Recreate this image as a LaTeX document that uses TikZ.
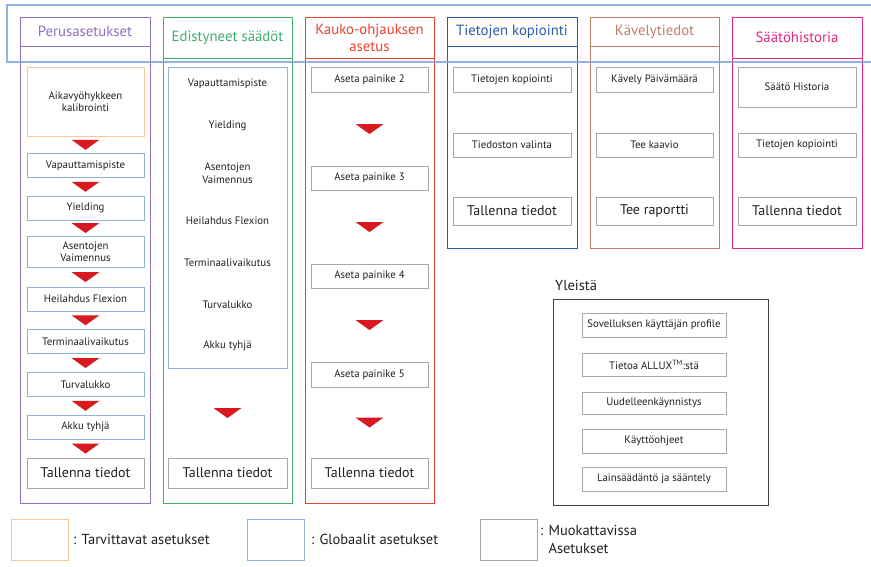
\documentclass[tikz,border=0pt]{standalone}
\usepackage{fontspec}
\setmainfont{PT Sans}
\usetikzlibrary{calc}
\definecolor{perpurple}{HTML}{8E70BE}
\definecolor{edgreen}{HTML}{3DB06E}
\definecolor{kored}{HTML}{E8432E}
\definecolor{kopblue}{HTML}{2B5BA8}
\definecolor{kavbrown}{HTML}{C08068}
\definecolor{histpink}{HTML}{E2277F}
\definecolor{globalblue}{HTML}{8FB3DA}
\definecolor{needorange}{HTML}{F6C8A0}
\definecolor{editgrey}{HTML}{A8A8A8}
\definecolor{arrowred}{HTML}{D8191F}
\definecolor{textgrey}{HTML}{231F20}
\newcommand{\redarrow}[2]{%
  \fill[arrowred] ($(#1.south)!0.5!(#2.north)$) ++(-14,-5) -- ++(28,0) -- ++(-14,10) -- cycle;}

\begin{document}
\begin{tikzpicture}[
    x=1pt, y=-1pt,
    item/.style={
      draw=editgrey,
      line width=0.8pt,
      inner sep=0pt,
      minimum width=117,
      minimum height=24,
      align=center,
      text=textgrey,
      font=\fontsize{10.8}{12.5}\selectfont
    },
    global/.style={item, draw=globalblue},
    saveitem/.style={item, minimum height=30, font=\fontsize{14}{16}\selectfont},
    plain/.style={align=center, text=textgrey, font=\fontsize{10.8}{12.5}\selectfont},
    legendtext/.style={plain, anchor=west, align=left, inner sep=0pt, font=\fontsize{14.5}{18}\selectfont},
    head/.style={align=center, font=\fontsize{14.8}{17}\selectfont},
    frame/.style={line width=1pt}
  ]
  \useasboundingbox (0,0) rectangle (871,566);

  % column frames
  \draw[frame, perpurple] (20,17) rectangle (150,503) (20,46) -- (150,46);
  \draw[frame, edgreen] (163,17) rectangle (292,503) (163,58) -- (292,58);
  \draw[frame, kored] (305,17) rectangle (434,503) (305,58) -- (434,58);
  \draw[frame, kopblue] (447,17) rectangle (577,248) (447,46) -- (577,46);
  \draw[frame, kavbrown] (590,17) rectangle (719,248) (590,46) -- (719,46);
  \draw[frame, histpink] (732,17) rectangle (862,248) (732,58) -- (862,58);

  \node[head, text=perpurple] (h1) at (85,31.5) {Perusasetukset};
  \node[head, text=edgreen] (h2) at (227.5,37.5) {Edistyneet säädöt};
  \node[head, text=kored] (h3) at (369.5,37.5) {Kauko-ohjauksen\\asetus};
  \node[head, text=kopblue] (h4) at (512,31.5) {Tietojen kopiointi};
  \node[head, text=kavbrown] (h5) at (654.5,31.5) {Kävelytiedot};
  \node[head, text=histpink] (h6) at (797,37.5) {Säätöhistoria};

  % Perusasetukset
  \node[item, draw=needorange, minimum height=69] (c1a) at (85.5,101.5) {Aikavyöhykkeen\\kalibrointi};
  \node[global] (c1b) at (85.5,165.5) {Vapauttamispiste};
  \node[global] (c1c) at (85.5,208) {Yielding};
  \node[global, minimum height=31] (c1d) at (85.5,251.5) {Asentojen\\Vaimennus};
  \node[global] (c1e) at (85.5,299) {Heilahdus Flexion};
  \node[global] (c1f) at (85.5,341.5) {Terminaalivaikutus};
  \node[global] (c1g) at (85.5,384.5) {Turvalukko};
  \node[global] (c1h) at (85.5,427) {Akku tyhjä};
  \node[saveitem] (c1s) at (85.5,473) {Tallenna tiedot};
  \foreach \a/\b in {c1a/c1b, c1b/c1c, c1c/c1d, c1d/c1e, c1e/c1f, c1f/c1g, c1g/c1h, c1h/c1s}
    \redarrow{\a}{\b};

  % Edistyneet saadot
  \node[global, minimum width=119, minimum height=301] (c2box) at (227.5,217.5) {};
  \node[plain] (c2a) at (227.5,84) {Vapauttamispiste};
  \node[plain] (c2b) at (227.5,126) {Yielding};
  \node[plain] (c2c) at (227.5,173) {Asentojen\\Vaimennus};
  \node[plain] (c2d) at (227.5,221) {Heilahdus Flexion};
  \node[plain] (c2e) at (227.5,263) {Terminaalivaikutus};
  \node[plain] (c2f) at (227.5,305) {Turvalukko};
  \node[plain] (c2g) at (227.5,346) {Akku tyhjä};
  \node[saveitem, minimum width=119] (c2s) at (227.5,473) {Tallenna tiedot};
  \redarrow{c2box}{c2s};

  % Kauko-ohjauksen asetus
  \node[item, minimum height=25] (c3a) at (369.5,79.5) {Aseta painike 2};
  \node[item] (c3b) at (369.5,178) {Aseta painike 3};
  \node[item] (c3c) at (369.5,276) {Aseta painike 4};
  \node[item, minimum height=25] (c3d) at (369.5,374.5) {Aseta painike 5};
  \node[saveitem] (c3s) at (369.5,473) {Tallenna tiedot};
  \foreach \a/\b in {c3a/c3b, c3b/c3c, c3c/c3d, c3d/c3s}
    \redarrow{\a}{\b};

  % Tietojen kopiointi
  \node[item, minimum width=118, minimum height=25] (c4a) at (512,79.5) {Tietojen kopiointi};
  \node[item, minimum width=118] (c4b) at (512,145) {Tiedoston valinta};
  \node[saveitem, minimum width=118, minimum height=28] (c4s) at (512,211) {Tallenna tiedot};

  % Kavelytiedot
  \node[item, minimum height=25] (c5a) at (654.5,79.5) {Kävely Päivämäärä};
  \node[item] (c5b) at (654.5,145) {Tee kaavio};
  \node[saveitem, minimum height=28] (c5s) at (654.5,211) {Tee raportti};

  % Saatohistoria
  \node[item, minimum width=118, minimum height=40] (c6a) at (797,87) {Säätö Historia};
  \node[item, minimum width=118] (c6b) at (797,145) {Tietojen kopiointi};
  \node[saveitem, minimum width=118, minimum height=28] (c6s) at (797,211) {Tallenna tiedot};

  % Yleista
  \node[legendtext] (yl) at (555,285) {Yleistä};
  \draw[line width=0.8pt, textgrey!85] (553,299) rectangle (768,505);
  \node[item, minimum width=144] (y1) at (654,325) {Sovelluksen käyttäjän profile};
  \node[item, minimum width=144, minimum height=23] (y2) at (654,364.5) {Tietoa ALLUX\textsuperscript{TM}:stä};
  \node[item, minimum width=144, minimum height=22] (y3) at (654,403) {Uudelleenkäynnistys};
  \node[item, minimum width=144] (y4) at (654,441) {Käyttöohjeet};
  \node[item, minimum width=144] (y5) at (654,479) {Lainsäädäntö ja sääntely};

  % legend
  \node[item, draw=needorange, minimum width=57, minimum height=41] (l1) at (39.5,539.5) {};
  \node[legendtext] (l1t) at (73,539) {: Tarvittavat asetukset};
  \node[global, minimum width=57, minimum height=41] (l2) at (275.5,539.5) {};
  \node[legendtext] (l2t) at (311,539) {: Globaalit asetukset};
  \node[item, minimum width=57, minimum height=41] (l3) at (508.5,539.5) {};
  \node[legendtext] (l3t) at (540,539) {: Muokattavissa\\\phantom{: }Asetukset};

  % global settings band
  \draw[line width=1.2pt, globalblue!90!blue, opacity=0.85] (7,5) rectangle (880,62);
\end{tikzpicture}
\end{document}
